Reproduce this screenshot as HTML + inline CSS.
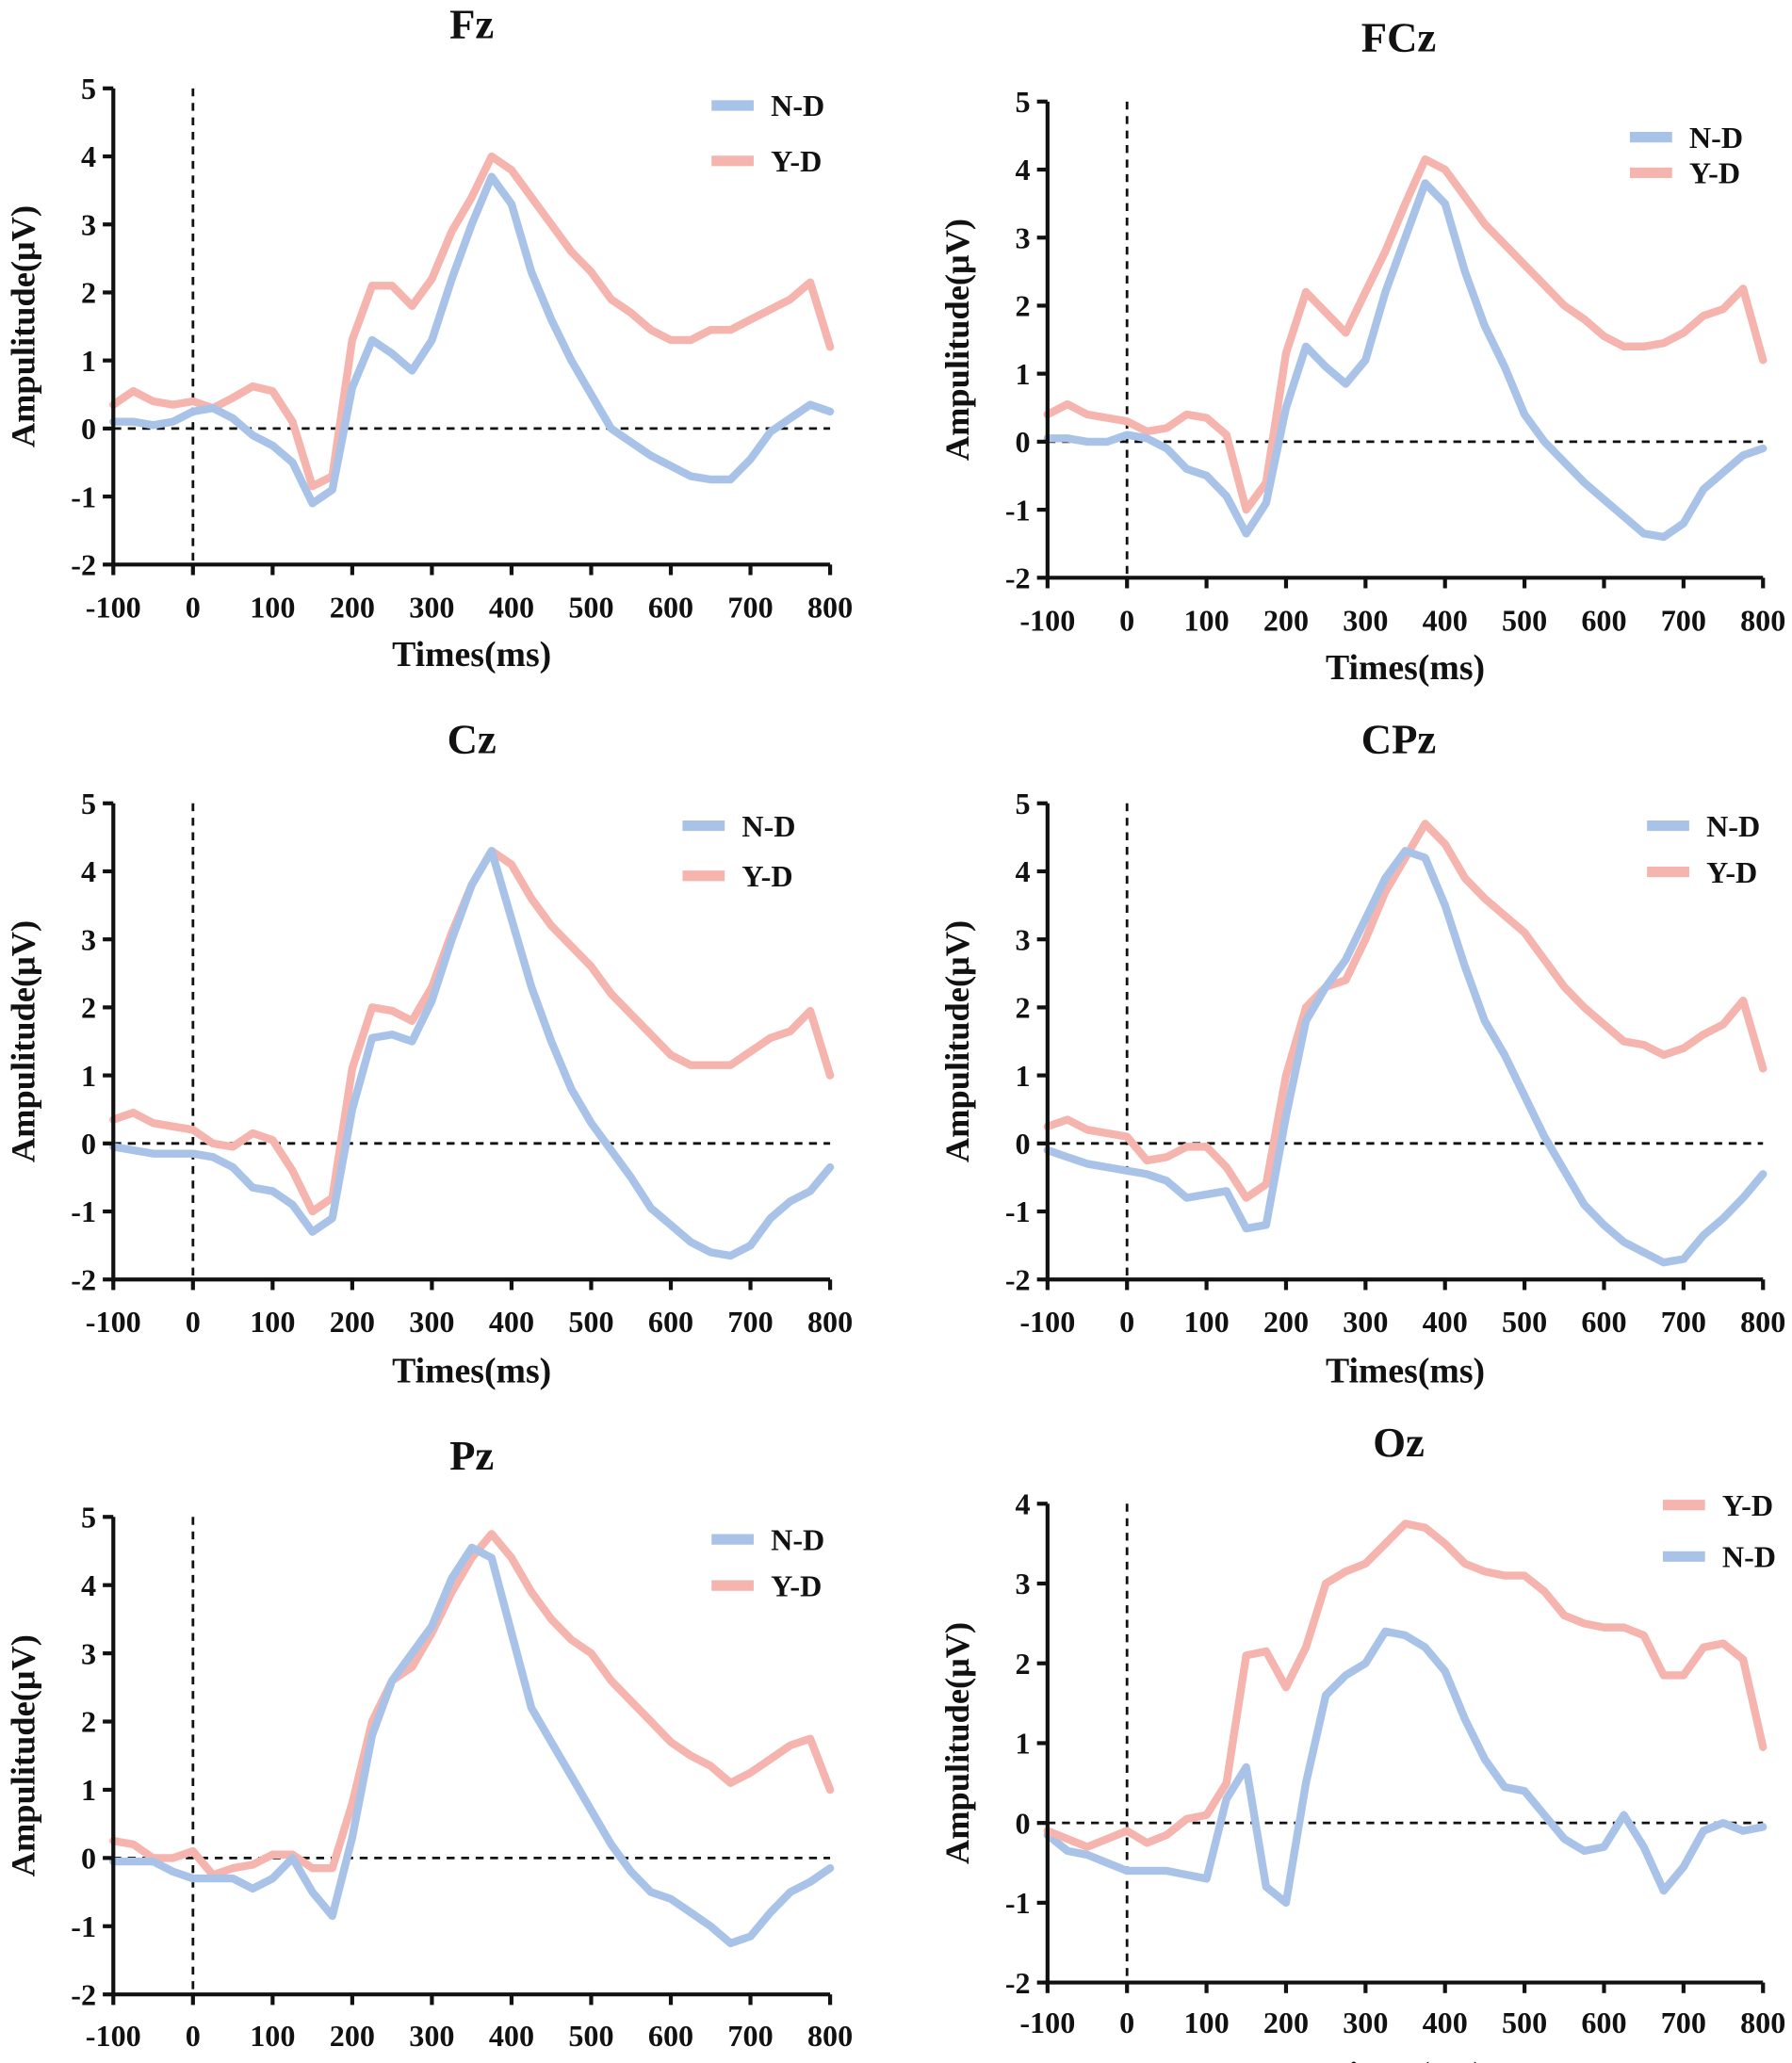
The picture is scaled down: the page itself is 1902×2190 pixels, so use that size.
<!DOCTYPE html>
<html><head><meta charset="utf-8"><style>
html,body{margin:0;padding:0;background:#fff}
svg{display:block}
text{font-family:"Liberation Serif",serif;font-weight:bold;fill:#111}
</style></head><body>
<svg id="fig" width="1902" height="2190" viewBox="0 0 1360 1564" preserveAspectRatio="none" xmlns="http://www.w3.org/2000/svg"></svg>
<script>
const times = [-100,-75,-50,-25,0,25,50,75,100,125,150,175,200,225,250,275,300,325,350,375,400,425,450,475,500,525,550,575,600,625,650,675,700,725,750,775,800];
const xTicks = [-100,0,100,200,300,400,500,600,700,800];
const fzND = [0.1,0.1,0.05,0.1,0.25,0.3,0.15,-0.1,-0.25,-0.5,-1.1,-0.9,0.6,1.3,1.1,0.85,1.3,2.2,3.0,3.7,3.3,2.3,1.6,1.0,0.5,0.0,-0.2,-0.4,-0.55,-0.7,-0.75,-0.75,-0.45,-0.05,0.15,0.35,0.25];
const fzYD = [0.35,0.55,0.4,0.35,0.4,0.3,0.45,0.62,0.55,0.1,-0.85,-0.7,1.3,2.1,2.1,1.8,2.2,2.9,3.4,4.0,3.8,3.4,3.0,2.6,2.3,1.9,1.7,1.45,1.3,1.3,1.45,1.45,1.6,1.75,1.9,2.15,1.2];
const fczND = [0.05,0.05,0.0,0.0,0.1,0.05,-0.1,-0.4,-0.5,-0.8,-1.35,-0.9,0.5,1.4,1.1,0.85,1.2,2.2,3.0,3.8,3.5,2.5,1.7,1.1,0.4,0.0,-0.3,-0.6,-0.85,-1.1,-1.35,-1.4,-1.2,-0.7,-0.45,-0.2,-0.1];
const fczYD = [0.4,0.55,0.4,0.35,0.3,0.15,0.2,0.4,0.35,0.1,-1.0,-0.6,1.3,2.2,1.9,1.6,2.2,2.8,3.5,4.15,4.0,3.6,3.2,2.9,2.6,2.3,2.0,1.8,1.55,1.4,1.4,1.45,1.6,1.85,1.95,2.25,1.2];
const czND = [-0.05,-0.1,-0.15,-0.15,-0.15,-0.2,-0.35,-0.65,-0.7,-0.9,-1.3,-1.1,0.5,1.55,1.6,1.5,2.1,3.0,3.8,4.3,3.3,2.3,1.5,0.8,0.3,-0.1,-0.5,-0.95,-1.2,-1.45,-1.6,-1.65,-1.5,-1.1,-0.85,-0.7,-0.35];
const czYD = [0.35,0.45,0.3,0.25,0.2,0.0,-0.05,0.15,0.05,-0.4,-1.0,-0.8,1.1,2.0,1.95,1.8,2.3,3.1,3.8,4.3,4.1,3.6,3.2,2.9,2.6,2.2,1.9,1.6,1.3,1.15,1.15,1.15,1.35,1.55,1.65,1.95,1.0];
const cpzND = [-0.1,-0.2,-0.3,-0.35,-0.4,-0.45,-0.55,-0.8,-0.75,-0.7,-1.25,-1.2,0.4,1.8,2.3,2.7,3.3,3.9,4.3,4.2,3.5,2.6,1.8,1.3,0.7,0.1,-0.4,-0.9,-1.2,-1.45,-1.6,-1.75,-1.7,-1.35,-1.1,-0.8,-0.45];
const cpzYD = [0.25,0.35,0.2,0.15,0.1,-0.25,-0.2,-0.05,-0.05,-0.35,-0.8,-0.6,1.0,2.0,2.3,2.4,3.0,3.7,4.2,4.7,4.4,3.9,3.6,3.35,3.1,2.7,2.3,2.0,1.75,1.5,1.45,1.3,1.4,1.6,1.75,2.1,1.1];
const pzND = [-0.05,-0.05,-0.05,-0.2,-0.3,-0.3,-0.3,-0.45,-0.3,0.0,-0.5,-0.85,0.3,1.8,2.6,3.0,3.4,4.1,4.55,4.4,3.3,2.2,1.7,1.2,0.7,0.2,-0.2,-0.5,-0.6,-0.8,-1.0,-1.25,-1.15,-0.8,-0.5,-0.35,-0.15];
const pzYD = [0.25,0.2,0.0,0.0,0.1,-0.25,-0.15,-0.1,0.05,0.05,-0.15,-0.15,0.8,2.0,2.6,2.8,3.3,3.9,4.4,4.75,4.4,3.9,3.5,3.2,3.0,2.6,2.3,2.0,1.7,1.5,1.35,1.1,1.25,1.45,1.65,1.75,1.0];
const ozND = [-0.15,-0.35,-0.4,-0.5,-0.6,-0.6,-0.6,-0.65,-0.7,0.3,0.7,-0.8,-1.0,0.5,1.6,1.85,2.0,2.4,2.35,2.2,1.9,1.3,0.8,0.45,0.4,0.1,-0.2,-0.35,-0.3,0.1,-0.3,-0.85,-0.55,-0.1,0.0,-0.1,-0.05];
const ozYD = [-0.1,-0.2,-0.3,-0.2,-0.1,-0.25,-0.15,0.05,0.1,0.5,2.1,2.15,1.7,2.2,3.0,3.15,3.25,3.5,3.75,3.7,3.5,3.25,3.15,3.1,3.1,2.9,2.6,2.5,2.45,2.45,2.35,1.85,1.85,2.2,2.25,2.05,0.95];

const BLUE = "#a9c3e8", PINK = "#f5b4ae";
const NS = "http://www.w3.org/2000/svg";
const svg = document.getElementById('fig');
function mk(tag, attrs, parent, txt){
  const e = document.createElementNS(NS, tag);
  for (const k in attrs) e.setAttribute(k, attrs[k]);
  if (txt !== undefined) e.textContent = txt;
  parent.appendChild(e); return e;
}
const panels = [
  {title:"Fz", x0:86, x1:630, yTop:67, yBot:428, yMin:-2, yMax:5, tY:18, tickY:460, labY:495,
   series:[{n:"N-D",d:fzND,c:BLUE,ly:80},{n:"Y-D",d:fzYD,c:PINK,ly:122}], lx:540},
  {title:"FCz", x0:795, x1:1338, yTop:77, yBot:438, yMin:-2, yMax:5, tY:28, tickY:470, labY:505,
   series:[{n:"N-D",d:fczND,c:BLUE,ly:104},{n:"Y-D",d:fczYD,c:PINK,ly:131}], lx:1237},
  {title:"Cz", x0:86, x1:630, yTop:609, yBot:970, yMin:-2, yMax:5, tY:560, tickY:1002, labY:1038,
   series:[{n:"N-D",d:czND,c:BLUE,ly:626},{n:"Y-D",d:czYD,c:PINK,ly:664}], lx:518},
  {title:"CPz", x0:795, x1:1338, yTop:609, yBot:970, yMin:-2, yMax:5, tY:560, tickY:1002, labY:1038,
   series:[{n:"N-D",d:cpzND,c:BLUE,ly:626},{n:"Y-D",d:cpzYD,c:PINK,ly:661}], lx:1250},
  {title:"Pz", x0:86, x1:630, yTop:1150, yBot:1512, yMin:-2, yMax:5, tY:1103, tickY:1543, labY:1580,
   series:[{n:"N-D",d:pzND,c:BLUE,ly:1167},{n:"Y-D",d:pzYD,c:PINK,ly:1202}], lx:540},
  {title:"Oz", x0:795, x1:1338, yTop:1140, yBot:1503, yMin:-2, yMax:4, tY:1093, tickY:1533, labY:1572,
   series:[{n:"Y-D",d:ozYD,c:PINK,ly:1141},{n:"N-D",d:ozND,c:BLUE,ly:1180}], lx:1262}
];
panels.forEach(p=>{
  const g = mk('g',{},svg);
  
  
  const xs = t => p.x0 + (t+100)/900*(p.x1-p.x0);
  const ys = v => p.yBot - (v-p.yMin)/(p.yMax-p.yMin)*(p.yBot-p.yTop);
  const cx = (p.x0+p.x1)/2;
  const tt = mk('text',{x:cx+(p.x0>700?-5:0),y:p.tY+11,'text-anchor':'middle','font-size':32},g,p.title);
  
  
  const zl = mk('line',{x1:p.x0,x2:p.x1,y1:ys(0),y2:ys(0),stroke:'#111','stroke-width':2,'stroke-dasharray':'6,5'},g);
  
  
  const vl = mk('line',{x1:xs(0),x2:xs(0),y1:p.yTop,y2:p.yBot,stroke:'#111','stroke-width':2,'stroke-dasharray':'6,5'},g);
  
  
  p.series.slice().reverse().forEach(s=>{
    const pts = times.map((t,i)=>xs(t).toFixed(1)+','+ys(s.d[i]).toFixed(1)).join(' ');
    const pl = mk('polyline',{points:pts,fill:'none',stroke:s.c,'stroke-width':6,'stroke-linejoin':'round','stroke-linecap':'round'},g);
    
    
  });
  const ya = mk('line',{x1:p.x0,x2:p.x0,y1:p.yTop,y2:p.yBot,stroke:'#111','stroke-width':3},g);
  
  
  const xa = mk('line',{x1:p.x0,x2:p.x1,y1:p.yBot,y2:p.yBot,stroke:'#111','stroke-width':3},g);
  
  
  for(let v=p.yMin; v<=p.yMax; v++){
    mk('line',{x1:p.x0-8,x2:p.x0,y1:ys(v),y2:ys(v),stroke:'#111','stroke-width':3},g);
    const tl = mk('text',{x:p.x0-13,y:ys(v)+8,'text-anchor':'end','font-size':23},g,String(v));
    
    
  }
  xTicks.forEach(t=>{
    mk('line',{x1:xs(t),x2:xs(t),y1:p.yBot,y2:p.yBot+8,stroke:'#111','stroke-width':3},g);
    const tl = mk('text',{x:xs(t),y:p.tickY+8,'text-anchor':'middle','font-size':23},g,String(t));
    
    
  });
  const xl = mk('text',{x:xs(350),y:p.labY+10,'text-anchor':'middle','font-size':27},g,'Times(ms)');
  
  
  const ymid = (p.yTop+p.yBot)/2;
  const yl = mk('text',{x:p.x0-60,y:ymid,'text-anchor':'middle','font-size':26,transform:'rotate(-90 '+(p.x0-60)+' '+ymid+')'},g,'Ampulitude(μV)');
  
  
  p.series.forEach(s=>{
    const lg = mk('g',{},g);
    
    
    mk('line',{x1:p.lx,x2:p.lx+32,y1:s.ly,y2:s.ly,stroke:s.c,'stroke-width':8},lg);
    mk('text',{x:p.lx+45,y:s.ly+8,'font-size':23},lg,s.n);
  });
});
</script>
</body></html>
